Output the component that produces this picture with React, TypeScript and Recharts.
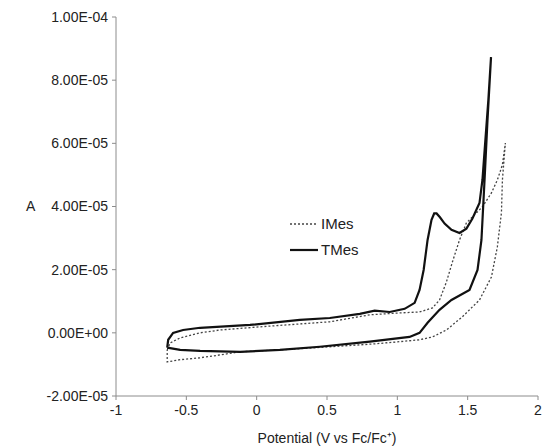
import { LineChart, Line, XAxis, YAxis } from 'recharts';

const tmesForwardV = [-0.636, -0.629, -0.594, -0.523, -0.402, -0.047, 0.307, 0.52, 0.733, 0.839, 0.946, 1.052, 1.123, 1.158, 1.187, 1.215, 1.243, 1.262, 1.279, 1.303, 1.336, 1.385, 1.442, 1.491, 1.534, 1.584, 1.605, 1.626, 1.647, 1.666];
const tmesForwardI = [-0.47, -0.22, 0.0, 0.09, 0.16, 0.25, 0.41, 0.47, 0.6, 0.7, 0.66, 0.76, 0.95, 1.36, 1.99, 2.94, 3.58, 3.78, 3.78, 3.66, 3.46, 3.26, 3.16, 3.3, 3.62, 4.11, 4.84, 6.11, 7.37, 8.73];
const tmesReverseV = [1.641, 1.62, 1.598, 1.57, 1.513, 1.385, 1.3, 1.215, 1.158, 1.087, 0.804, 0.449, 0.165, -0.118, -0.402, -0.544, -0.636];
const tmesReverseI = [6.74, 4.84, 2.94, 1.99, 1.36, 1.04, 0.73, 0.32, 0.0, -0.13, -0.28, -0.44, -0.54, -0.6, -0.57, -0.54, -0.47];

const imesForwardV = [-0.636, -0.615, -0.544, -0.402, -0.26, 0.023, 0.52, 0.804, 1.016, 1.158, 1.25, 1.3, 1.349, 1.392, 1.442, 1.491, 1.534, 1.605, 1.669, 1.711, 1.747, 1.768];
const imesForwardI = [-0.54, -0.32, -0.16, 0.0, 0.09, 0.19, 0.35, 0.57, 0.63, 0.66, 0.79, 1.04, 1.61, 2.25, 2.94, 3.48, 3.67, 3.99, 4.43, 4.84, 5.32, 6.01];
const imesReverseV = [1.747, 1.74, 1.711, 1.669, 1.584, 1.463, 1.349, 1.25, 1.158, 1.016, 0.839, 0.52, 0.165, -0.118, -0.26, -0.402, -0.544, -0.636, -0.636];
const imesReverseI = [4.84, 3.8, 2.72, 1.77, 1.04, 0.51, 0.09, -0.13, -0.22, -0.28, -0.35, -0.44, -0.54, -0.6, -0.7, -0.79, -0.85, -0.92, -0.54];

const xTicks = [-1, -0.5, 0, 0.5, 1, 1.5, 2];
const yTicks = [-2e-5, 0, 2e-5, 4e-5, 6e-5, 8e-5, 1e-4];

const toPoints = (vs: number[], is: number[]) => vs.map((v, k) => ({ v, i: is[k] * 1e-5 }));
const tmes = [...toPoints(tmesForwardV, tmesForwardI), ...toPoints(tmesReverseV, tmesReverseI)];
const imes = [...toPoints(imesForwardV, imesForwardI), ...toPoints(imesReverseV, imesReverseI)];

const sci = (v: number) => {
  const [m, e] = v.toExponential(2).split('e');
  const n = parseInt(e, 10);
  return `${m}E${n < 0 ? '-' : '+'}${String(Math.abs(n)).padStart(2, '0')}`;
};

const font = '"Liberation Sans", Arial, sans-serif';
const tick = { fill: '#222', fontSize: 14, fontFamily: font };

function CvLegend() {
  return (
    <svg width={80} height={50} style={{ position: 'absolute', left: 288, top: 215 }}>
      <line x1={2} y1={9} x2={30} y2={9} stroke="#444" strokeWidth={1.3} strokeDasharray="2 2" />
      <text x={33} y={14} fontSize={15} fontFamily={font} fill="#222">IMes</text>
      <line x1={2} y1={35} x2={30} y2={35} stroke="#111" strokeWidth={2.2} />
      <text x={33} y={40} fontSize={15} fontFamily={font} fill="#222">TMes</text>
    </svg>
  );
}

export default function App() {
  return (
    <div style={{ position: 'relative', width: 543, height: 447 }}>
      <style>{`body{margin:0;background:#fff}`}</style>
      <LineChart width={543} height={447} margin={{ top: 17, right: 5, bottom: 0, left: 0 }}>
        <XAxis
          type="number"
          dataKey="v"
          domain={[-1, 2]}
          ticks={xTicks}
          tick={tick}
          tickSize={4}
          tickMargin={5}
          stroke="#8c8c8c"
          height={51}
          label={{ value: 'Potential (V vs Fc/Fc⁺)', position: 'insideBottom', offset: 4, fill: '#222', fontSize: 14, fontFamily: font }}
        />
        <YAxis
          type="number"
          domain={[-2e-5, 1e-4]}
          ticks={yTicks}
          tickFormatter={sci}
          tick={tick}
          tickSize={4}
          tickMargin={4}
          stroke="#8c8c8c"
          width={116}
          label={{ value: 'A', position: 'insideLeft', offset: 26, fill: '#222', fontSize: 14, fontFamily: font }}
        />
        <Line data={imes} dataKey="i" type="linear" stroke="#444" strokeWidth={1.3} strokeDasharray="2 2" dot={false} activeDot={false} isAnimationActive={false} name="IMes" />
        <Line data={tmes} dataKey="i" type="linear" stroke="#111" strokeWidth={2.2} dot={false} activeDot={false} isAnimationActive={false} name="TMes" />
      </LineChart>
      <CvLegend />
    </div>
  );
}
